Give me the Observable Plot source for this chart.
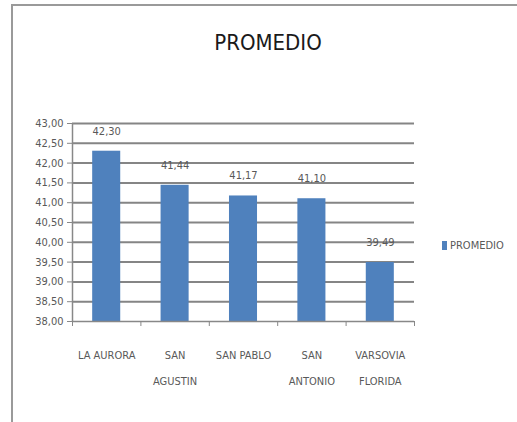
<!DOCTYPE html>
<html><head><meta charset="utf-8">
<script src="https://cdn.jsdelivr.net/npm/d3@7"></script>
<script src="https://cdn.jsdelivr.net/npm/@observablehq/plot@0.6"></script>
<style>
html,body{margin:0;padding:0;background:#fff;overflow:hidden;width:517px;height:422px;}
#wrap{position:relative;width:517px;height:422px;font-family:"Liberation Sans Narrow","DejaVu Sans Condensed",sans-serif;}
#frame{position:absolute;left:11px;top:4px;width:600px;height:600px;border:2px solid #9a9a9a;box-sizing:border-box;}
#title{position:absolute;left:0;width:536px;top:30px;text-align:center;font-size:22px;color:#1a1a1a;}
#legend{position:absolute;left:442px;top:239px;font-size:11px;color:#595959;display:flex;align-items:center;gap:3px;}
#legend span.sw{display:inline-block;width:5px;height:9px;background:#4f81bd;}
#chart{position:absolute;left:0;top:0;}
</style></head>
<body><div id="wrap"><div id="frame"></div><div id="title">PROMEDIO</div>
<div id="legend"><span class="sw"></span><span>PROMEDIO</span></div>
<div id="chart"></div></div>
<script>
const categories = ["LA AURORA", "SAN\nAGUSTIN", "SAN PABLO", "SAN\nANTONIO", "VARSOVIA\nFLORIDA"];
const values = [42.30, 41.44, 41.17, 41.10, 39.49];
const yTicks = [38, 38.5, 39, 39.5, 40, 40.5, 41, 41.5, 42, 42.5, 43];

const data = categories.map((c, i) => ({i, c, v: values[i]}));
const fmt = d => d.toFixed(2).replace(".", ",");
const gap = 0.295;

const plot = Plot.plot({
  width: 517, height: 422,
  marginLeft: 72, marginTop: 123, marginRight: 103, marginBottom: 101,
  style: {fontFamily: '"Liberation Sans Narrow","DejaVu Sans Condensed",sans-serif', fontSize: "11px", color: "#595959", background: "transparent"},
  x: {domain: [0, categories.length], axis: null},
  y: {domain: [38, 43], axis: null},
  marks: [
    Plot.ruleY(yTicks.slice(1), {stroke: "#858585", strokeWidth: 2, strokeOpacity: 1}),
    Plot.rect(data, {x1: d => d.i + gap, x2: d => d.i + 1 - gap, y1: 38, y2: "v", fill: "#4f81bd"}),
    Plot.ruleY([38], {stroke: "#888", strokeWidth: 1.5}),
    Plot.ruleX([0], {stroke: "#888", strokeWidth: 1.5}),
    Plot.axisY({ticks: yTicks, tickFormat: fmt, tickSize: 5, tickPadding: 4, stroke: "#888", fill: "#595959", fontSize: 11, label: null}),
    Plot.axisX({ticks: d3.range(categories.length + 1), tickFormat: () => "", tickSize: 5, stroke: "#888", label: null}),
    Plot.text(data, {x: d => d.i + 0.5, y: 38, text: "c", dy: 20, lineAnchor: "top", lineHeight: 2.3, fill: "#595959", fontSize: 11}),
    Plot.text(data, {x: d => d.i + 0.5, y: "v", text: d => fmt(d.v), dy: -20, fill: "#595959", fontSize: 11})
  ]
});
document.getElementById("chart").appendChild(plot);
</script></body></html>
